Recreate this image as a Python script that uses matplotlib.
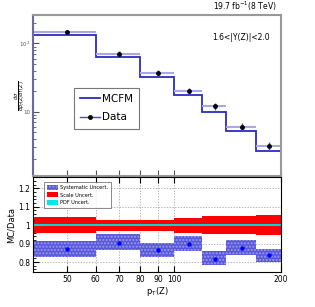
import numpy as np
import matplotlib.pyplot as plt
from matplotlib.patches import Patch
from matplotlib.lines import Line2D
from matplotlib.ticker import FixedLocator, NullLocator, FixedFormatter, LogLocator, NullFormatter

# bins in pT(Z)
edges = [40, 60, 80, 100, 120, 140, 170, 200]
centers = [50, 70, 90, 110, 130, 155, 185]

# top panel: cross section
data = [148, 70.5, 37.2, 19.9, 12.1, 6.04, 3.15]
data_err = [10, 6, 3.5, 2.4, 1.5, 0.8, 0.45]
mcfm = [132, 63.7, 32.5, 17.7, 9.9, 5.27, 2.66]

# bottom panel: MC/Data
ratio = [0.869, 0.905, 0.867, 0.900, 0.818, 0.876, 0.836]
sys_lo = [0.827, 0.863, 0.827, 0.860, 0.782, 0.836, 0.800]
sys_hi = [0.914, 0.950, 0.903, 0.939, 0.858, 0.917, 0.872]
scale_lo = [0.957, 0.966, 0.966, 0.960, 0.953, 0.950, 0.945]
scale_hi = [1.043, 1.030, 1.030, 1.038, 1.047, 1.050, 1.056]
pdf_lo = [0.995] * 7
pdf_hi = [1.005] * 7

xticks = [50, 60, 70, 80, 90, 100, 200]

fig = plt.figure(figsize=(3.15, 3.07), dpi=100)
ax1 = fig.add_axes([0.105, 0.427, 0.787, 0.524])
ax2 = fig.add_axes([0.105, 0.114, 0.787, 0.309])

# ---- top panel
ax1.set_xscale('log')
ax1.set_yscale('log')
ax1.stairs(mcfm, edges, color='#2c2cc0', linewidth=1.3)
xlo = np.array(centers) - np.array(edges[:-1])
xhi = np.array(edges[1:]) - np.array(centers)
ax1.errorbar(centers, data, xerr=[xlo, xhi], fmt='none', ecolor='#a8a8e6', elinewidth=1.5, capsize=0)
ax1.errorbar(centers, data, yerr=data_err, fmt='none', ecolor='#4a4ac8', elinewidth=1.0, capsize=0)
ax1.plot(centers, data, 'o', color='black', markersize=2.5)
ax1.set_xlim(40, 200)
ax1.set_ylim(1.15, 260)
ax1.xaxis.set_major_locator(FixedLocator(xticks))
ax1.xaxis.set_minor_locator(NullLocator())
ax1.xaxis.set_major_formatter(NullFormatter())
ax1.yaxis.set_major_locator(FixedLocator([10, 100]))
ax1.yaxis.set_major_formatter(FixedFormatter(['10', '$10^2$']))
ax1.yaxis.set_minor_locator(LogLocator(base=10, subs=np.arange(2, 10)))
ax1.yaxis.set_minor_formatter(NullFormatter())
ax1.tick_params(axis='both', which='major', direction='in', length=4, labelsize=4, colors='#555555', pad=2)
ax1.tick_params(axis='both', which='minor', direction='in', length=2, colors='#555555')
for s in ['top', 'right', 'bottom']:
    ax1.spines[s].set_color('#999999')
    ax1.spines[s].set_linewidth(1.5)
ax1.spines['left'].set_color('#6a6aa0')
ax1.spines['left'].set_linewidth(1.5)

leg1 = ax1.legend(handles=[Line2D([], [], color='#2c2cc0', lw=1.3),
                           Line2D([], [], color='#4a4ac8', lw=1.0, marker='o', markersize=2.5,
                                  markerfacecolor='black', markeredgecolor='black')],
                  labels=['MCFM', 'Data'], loc='upper left', bbox_to_anchor=(0.165, 0.548),
                  fontsize=7.5, frameon=True, fancybox=False, edgecolor='#555555',
                  handlelength=1.9, handletextpad=0.2, borderpad=0.6, labelspacing=0.8,
                  borderaxespad=0)
leg1.get_frame().set_linewidth(0.8)

fig.text(0.878, 0.958, r'19.7 fb$^{-1}$(8 TeV)', fontsize=5.5, ha='right', va='bottom')
ax1.text(0.955, 0.86, '1.6<|Y(Z)|<2.0', fontsize=5.5, ha='right', va='center', transform=ax1.transAxes)
fig.text(0.062, 0.69, r'$\frac{d\sigma}{dp_T(Z)dY(Z)}$', fontsize=5, rotation=90, ha='center', va='center')

# ---- ratio panel
ax2.set_xscale('log')
ax2.set_axisbelow(True)
ax2.stairs(scale_hi, edges, baseline=scale_lo, fill=True, color='#ff0000', linewidth=0)
ax2.stairs(pdf_hi, edges, baseline=pdf_lo, fill=True, color='#00d8d8', linewidth=0)
ax2.stairs(sys_hi, edges, baseline=sys_lo, fill=True, facecolor='#5858d8', edgecolor='#9a9af2',
           hatch='.....', linewidth=0)
ax2.plot(centers, ratio, 'o', color='#0000ff', markersize=2.2)
ax2.set_xlim(40, 200)
ax2.set_ylim(0.746, 1.26)
ax2.xaxis.set_major_locator(FixedLocator(xticks))
ax2.xaxis.set_minor_locator(NullLocator())
ax2.xaxis.set_major_formatter(FixedFormatter([str(t) for t in xticks]))
ax2.yaxis.set_major_locator(FixedLocator([0.8, 0.9, 1.0, 1.1, 1.2]))
ax2.yaxis.set_major_formatter(FixedFormatter(['0.8', '0.9', '1', '1.1', '1.2']))
ax2.yaxis.set_minor_locator(FixedLocator(np.arange(0.76, 1.26, 0.02)))
ax2.tick_params(axis='both', which='major', direction='in', length=4, labelsize=5.5, pad=2,
                top=True)
ax2.tick_params(axis='y', which='minor', direction='in', length=2)
ax2.grid(True, which='major', linestyle=(0, (2, 2)), color='#999999', linewidth=0.5)
for s in ax2.spines.values():
    s.set_linewidth(0.8)
    s.set_zorder(5)
ax2.set_ylabel('MC/Data', fontsize=6, labelpad=2)
ax2.set_xlabel('p$_{\\mathregular{T}}$(Z)', fontsize=6, labelpad=0)
ax2.xaxis.set_label_coords(0.5, -0.14)

leg2 = ax2.legend(handles=[Patch(facecolor='#5858d8', edgecolor='#9a9af2', hatch='.....', linewidth=0),
                           Patch(facecolor='#ff0000', linewidth=0),
                           Patch(facecolor='#00e8e8', linewidth=0)],
                  labels=['Systematic Uncert.', 'Scale Uncert.', 'PDF Uncert.'],
                  loc='upper left', bbox_to_anchor=(0.045, 0.945), fontsize=3.6, frameon=True,
                  fancybox=False, edgecolor='#555555', handlelength=2.2, handleheight=1.2,
                  handletextpad=0.5, borderpad=0.5, labelspacing=0.45, borderaxespad=0)
leg2.get_frame().set_linewidth(0.6)

fig.savefig('out.png', dpi=100)
